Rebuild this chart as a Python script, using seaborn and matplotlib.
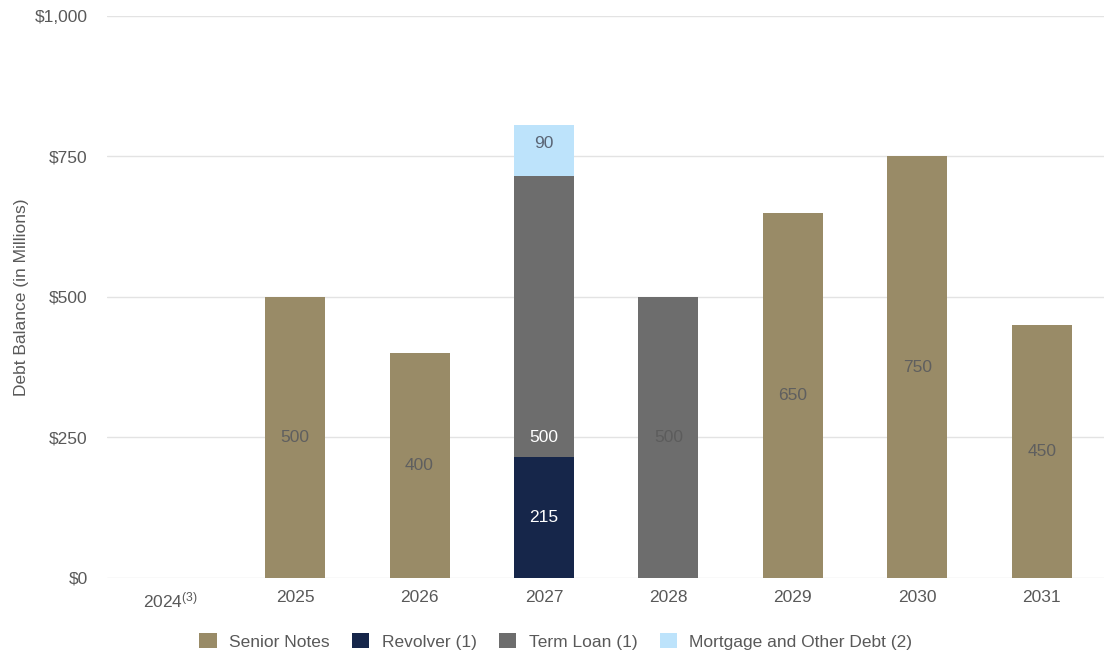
import matplotlib
matplotlib.use("Agg")
import matplotlib.pyplot as plt
import seaborn as sns
import numpy as np
import pandas as pd
from matplotlib.patches import Patch

years = ["2024", "2025", "2026", "2027", "2028", "2029", "2030", "2031"]
tick_labels = ["2024$^{\\mathrm{(3)}}$", "2025", "2026", "2027", "2028", "2029", "2030", "2031"]
senior_notes = [0, 500, 400, 0, 0, 650, 750, 450]
revolver = [0, 0, 0, 215, 0, 0, 0, 0]
term_loan = [0, 0, 0, 500, 500, 0, 0, 0]
mortgage = [0, 0, 0, 90, 0, 0, 0, 0]
series_names = ["Senior Notes", "Revolver (1)", "Term Loan (1)", "Mortgage and Other Debt (2)"]
yticks = [0, 250, 500, 750, 1000]
ytick_labels = ["$0", "$250", "$500", "$750", "$1,000"]

colors = ["#998b67", "#16264a", "#6d6d6d", "#bde3fb"]
label_colors = ["#5f5f5f", "#ffffff", "#ffffff", "#5a6575"]

sns.set_theme(style="white")
plt.rcParams["font.family"] = ["Liberation Sans", "DejaVu Sans"]
plt.rcParams["mathtext.fontset"] = "custom"
plt.rcParams["mathtext.rm"] = "Liberation Sans"
plt.rcParams["mathtext.it"] = "Liberation Sans:italic"
plt.rcParams["mathtext.bf"] = "Liberation Sans:bold"

FS = 12.5
fig = plt.figure(figsize=(11.05, 6.59), dpi=100)
ax = fig.add_axes([0.097, 0.123, 0.902, 0.853])

df = pd.DataFrame({"year": years, "sn": senior_notes, "rv": revolver,
                   "tl": term_loan, "mo": mortgage})
layers = [df["sn"].to_numpy(), df["rv"].to_numpy(), df["tl"].to_numpy(), df["mo"].to_numpy()]
bottom = np.zeros(len(years))
width = 0.482
for i, vals in enumerate(layers):
    sns.barplot(data=df, x="year", y=df.columns[i + 1], order=years, color=colors[i],
                bottom=bottom.copy(), width=width, ax=ax, saturation=1, zorder=2,
                linewidth=0, edgecolor="none")
    for j, v in enumerate(vals):
        if v > 0:
            if i == 2 and bottom[j] > 0:
                ypos = v / 2  # label placed as in reference
            else:
                ypos = bottom[j] + v / 2
            if i == 3:
                ypos += 12
            tc = label_colors[i]
            if i == 2 and bottom[j] == 0:
                tc = "#5c5c5c"
            ax.text(j, ypos, f"{int(v)}", ha="center", va="center", fontsize=FS,
                    color=tc, zorder=3)
    bottom = bottom + vals

ax.set_xlim(-0.51, 7.5)
ax.set_ylim(0, 1000)
ax.set_yticks(yticks)
ax.set_yticklabels(ytick_labels)
ax.set_xticks(range(len(years)))
ax.set_xticklabels(tick_labels)
ax.tick_params(axis="both", length=0, labelsize=FS, colors="#595959")
ax.tick_params(axis="y", pad=14)
ax.tick_params(axis="x", pad=9)
ax.set_xlabel("")
ax.set_ylabel("Debt Balance (in Millions)", fontsize=FS, color="#595959")
ax.yaxis.set_label_coords(-0.078, 0.5)
for s in ax.spines.values():
    s.set_visible(False)
ax.grid(axis="y", color="#e3e3e3", linewidth=1, zorder=0)
ax.set_axisbelow(True)

handles = [Patch(facecolor=c, edgecolor="none") for c in colors]
fig.legend(handles, series_names, loc="center", bbox_to_anchor=(0.503, 0.027), ncol=4,
           frameon=False, fontsize=FS, handlelength=1.0, handleheight=1.0,
           handletextpad=0.7, columnspacing=1.3, labelcolor="#595959")

fig.savefig("out.png", dpi=100)
